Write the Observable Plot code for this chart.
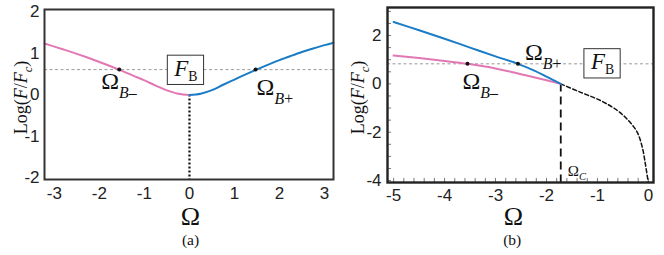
<!DOCTYPE html>
<html><head><meta charset="utf-8">
<script src="https://cdn.jsdelivr.net/npm/d3@7"></script>
<script src="https://cdn.jsdelivr.net/npm/@observablehq/plot@0.6"></script>
<style>
body{margin:0;background:#fff;}
#wrap{position:relative;width:664px;height:255px;overflow:hidden;}
#pa{position:absolute;left:0;top:0;width:336px;height:255px;}
#pb{position:absolute;left:336px;top:0;width:328px;height:255px;}
</style></head><body><div id="wrap"><div id="pa"></div><div id="pb"></div></div>
<script>
// ---------- Panel (a) data ----------
const omegaLowerA = [-3.22,-3.0,-2.75,-2.5,-2.25,-2.0,-1.75,-1.5,-1.25,-1.0,-0.75,-0.5,-0.25,0];
const logLowerA   = [1.24,1.165,1.08,0.99,0.895,0.795,0.69,0.58,0.465,0.35,0.225,0.11,0.03,0];
const omegaUpperA = [0,0.25,0.5,0.75,1.0,1.25,1.5,1.75,2.0,2.25,2.5,2.75,3.0,3.2];
const logUpperA   = [0,0.03,0.115,0.245,0.37,0.495,0.615,0.73,0.84,0.94,1.035,1.12,1.2,1.26];
const fbA = 0.61;
const crossOmegaA = [-1.56, 1.47];
const centerOmegaA = 0;
const xDomainA = [-3.22, 3.2];
const yDomainA = [-2.04, 2.06];
const xTicksA = [-3,-2,-1,0,1,2,3];
const yTicksA = [-2,-1,0,1,2];

// ---------- Panel (b) data ----------
const omegaUpperB = [-5,-4.5,-4,-3.5,-3,-2.56,-2.25,-2,-1.72];
const logUpperB   = [2.56,2.22,1.87,1.50,1.14,0.83,0.56,0.30,0];
const omegaLowerB = [-5,-4.5,-4,-3.55,-3,-2.5,-2,-1.72];
const logLowerB   = [1.17,1.07,0.95,0.83,0.64,0.40,0.15,0];
const omegaStableB = [-1.72,-1.33,-0.94,-0.61,-0.39,-0.22,-0.12,-0.06,-0.014,-0.005];
const logStableB   = [0,-0.35,-0.69,-1.10,-1.52,-2.0,-2.62,-3.31,-3.93,-4.08];
const fbB = 0.83;
const crossUpperB = -2.56;
const crossLowerB = -3.55;
const omegaC = -1.72;
const fbLabelOmegaB = -0.9;
const xDomainB = [-5.12, 0.1];
const yDomainB = [-4.08, 3.16];
const xTicksB = [-5,-4,-3,-2,-1,0];
const yTicksB = [-4,-2,0,2];
const xMinorB = d3.ticks(-5, 0, 25);
const yMinorB = d3.ticks(-4, 3, 14);

// ---------- styles ----------
const serif = "'Liberation Serif','Times New Roman',serif";
const sans = "'Liberation Sans',Arial,sans-serif";
const pink = "#e377b4", blue = "#1a7cc6";
const rows = (xs, ys) => xs.map((x, i) => ({x, y: ys[i]}));
const fmt = d => `${d}`;

// ---------- Panel (a) ----------
const crossA = crossOmegaA.map(x => ({x, y: fbA}));
const chartA = Plot.plot({
  width: 336, height: 255, marginLeft: 44, marginRight: 3, marginTop: 9, marginBottom: 76,
  style: {fontFamily: sans, fontSize: "17px", color: "#222", background: "white", overflow: "visible"},
  x: {domain: xDomainA, ticks: xTicksA, tickSize: 0, tickPadding: 7, tickFormat: fmt, label: null},
  y: {domain: yDomainA, ticks: yTicksA, tickSize: 0, tickPadding: 5, tickFormat: fmt, label: null},
  marks: [
    Plot.ruleY([fbA], {stroke: "#9a9a9a", strokeWidth: 1, strokeDasharray: "3,2.5"}),
    Plot.ruleX([centerOmegaA], {y1: 0, y2: yDomainA[0], stroke: "#111", strokeWidth: 2.2, strokeDasharray: "2,2"}),
    Plot.line(rows(omegaLowerA, logLowerA), {x: "x", y: "y", stroke: pink, strokeWidth: 2, curve: "catmull-rom"}),
    Plot.line(rows(omegaUpperA, logUpperA), {x: "x", y: "y", stroke: blue, strokeWidth: 2, curve: "catmull-rom"}),
    Plot.dot(crossA, {x: "x", y: "y", r: 2, fill: "#111"}),
    Plot.text([crossA[0]], {x: "x", y: "y", text: () => "Ω_{*B*–}", textAnchor: "start", dx: -18, dy: 11.5, fontFamily: serif, fontSize: 24, fill: "#111"}),
    Plot.text([crossA[1]], {x: "x", y: "y", text: () => "Ω_{*B*+}", textAnchor: "start", dx: 1, dy: 17.5, fontFamily: serif, fontSize: 24, fill: "#111"}),
    Plot.text([{x: centerOmegaA, y: fbA}], {x: "x", y: "y", text: () => "*F*_{B}", dx: -3.5, dy: -1.3, fontFamily: serif, fontSize: 23, fill: "#111"}),
    Plot.text(["Ω"], {frameAnchor: "bottom", lineAnchor: "bottom", dx: 1.5, dy: 45.5, fontFamily: serif, fontSize: 26, fill: "#111"}),
    Plot.text(["(a)"], {frameAnchor: "bottom", lineAnchor: "bottom", dx: 1.5, dy: 65, fontFamily: serif, fontSize: 15.5, fill: "#111"}),
    Plot.text(["Log(*F*/*F*_{*c*})"], {frameAnchor: "left", textAnchor: "middle", lineAnchor: "middle", rotate: -90, dx: -23, dy: 3, fontFamily: serif, fontSize: 18, fill: "#111"}),
    Plot.frame({stroke: "#333", strokeWidth: 2})
  ]
});

// ---------- Panel (b) ----------
const frameHB = 255 - 7 - 73, frameWB = 328 - 51 - 11;
const chartB = Plot.plot({
  width: 328, height: 255, marginLeft: 51, marginRight: 11, marginTop: 7, marginBottom: 73,
  style: {fontFamily: sans, fontSize: "17px", color: "#222", background: "transparent", overflow: "visible"},
  x: {domain: xDomainB, ticks: xTicksB, tickSize: 0, tickPadding: 6, tickFormat: fmt, label: null},
  y: {domain: yDomainB, ticks: yTicksB, tickSize: 0, tickPadding: 6, tickFormat: fmt, label: null},
  marks: [
    Plot.tickX(xMinorB, {insetTop: frameHB - 4, stroke: "#555", strokeWidth: 0.8}),
    Plot.tickY(yMinorB, {insetRight: frameWB - 4, stroke: "#555", strokeWidth: 0.8}),
    Plot.ruleY([fbB], {stroke: "#9a9a9a", strokeWidth: 1, strokeDasharray: "3,2.5"}),
    Plot.ruleX([omegaC], {y1: 0, y2: yDomainB[0], stroke: "#111", strokeWidth: 1.8, strokeDasharray: "8,5"}),
    Plot.line(rows(omegaStableB, logStableB), {x: "x", y: "y", stroke: "#111", strokeWidth: 1.5, strokeDasharray: "4,2.5", curve: "catmull-rom"}),
    Plot.line(rows(omegaLowerB, logLowerB), {x: "x", y: "y", stroke: pink, strokeWidth: 2, curve: "catmull-rom"}),
    Plot.line(rows(omegaUpperB, logUpperB), {x: "x", y: "y", stroke: blue, strokeWidth: 2, curve: "catmull-rom"}),
    Plot.dot([{x: crossLowerB, y: fbB}, {x: crossUpperB, y: fbB}], {x: "x", y: "y", r: 2, fill: "#111"}),
    Plot.text([{x: crossUpperB, y: fbB}], {x: "x", y: "y", text: () => "Ω_{*B*+}", textAnchor: "start", dx: 7, dy: -12, fontFamily: serif, fontSize: 24, fill: "#111"}),
    Plot.text([{x: crossLowerB, y: fbB}], {x: "x", y: "y", text: () => "Ω_{*B*–}", textAnchor: "start", dx: -5, dy: 17, fontFamily: serif, fontSize: 24, fill: "#111"}),
    Plot.text([{x: fbLabelOmegaB, y: fbB}], {x: "x", y: "y", text: () => "*F*_{B}", dy: -2, fontFamily: serif, fontSize: 23, fill: "#111"}),
    Plot.text([{x: omegaC, y: yDomainB[0]}], {x: "x", y: "y", text: () => "Ω_{*C*}", textAnchor: "start", dx: 7, dy: -11, fontFamily: serif, fontSize: 15, fill: "#111"}),
    Plot.text(["Ω"], {frameAnchor: "bottom", lineAnchor: "bottom", dx: -7, dy: 42, fontFamily: serif, fontSize: 26, fill: "#111"}),
    Plot.text(["(b)"], {frameAnchor: "bottom", lineAnchor: "bottom", dx: -8.3, dy: 62, fontFamily: serif, fontSize: 15.5, fill: "#111"}),
    Plot.text(["Log(*F*/*F*_{*c*})"], {frameAnchor: "left", textAnchor: "middle", lineAnchor: "middle", rotate: -90, dx: -29, dy: 2.5, fontFamily: serif, fontSize: 18, fill: "#111"}),
    Plot.frame({stroke: "#222", strokeWidth: 2.4})
  ]
});

document.getElementById("pa").appendChild(chartA);
document.getElementById("pb").appendChild(chartB);

// ---------- rich text (italic / subscript) ----------
const subStyle = {
  "Ω_{*B*–}": [0.66, 0.38], "Ω_{*B*+}": [0.66, 0.38],
  "*F*_{B}": [0.6, 0.23], "Log(*F*/*F*_{*c*})": [0.7, 0.25], "Ω_{*C*}": [0.7, 0.25]
};
const boxed = new Set(["*F*_{B}"]);
function parse(s) {
  const segs = []; let italic = false, sub = false, cur = "";
  const push = () => { if (cur) segs.push({text: cur, italic, sub}); cur = ""; };
  for (let i = 0; i < s.length; i++) {
    const c = s[i];
    if (c === "*") { push(); italic = !italic; }
    else if (c === "_" && s[i + 1] === "{") { push(); sub = true; i++; }
    else if (c === "}" && sub) { push(); sub = false; }
    else cur += c;
  }
  push();
  return segs;
}
function richify(svg) {
  d3.select(svg).selectAll("text").each(function() {
    const t = this.textContent;
    if (!(t in subStyle)) return;
    const [scale, shift] = subStyle[t];
    const fs = parseFloat(getComputedStyle(this).fontSize);
    this.textContent = "";
    let cur = 0;
    for (const s of parse(t)) {
      const ts = document.createElementNS("http://www.w3.org/2000/svg", "tspan");
      ts.textContent = s.text;
      ts.setAttribute("font-style", s.italic ? "italic" : "normal");
      const target = s.sub ? fs * shift : 0;
      if (target !== cur) { ts.setAttribute("dy", target - cur); cur = target; }
      if (s.sub) ts.setAttribute("font-size", fs * scale);
      this.appendChild(ts);
    }
    if (boxed.has(t)) {
      const bb = this.getBBox();
      const r = document.createElementNS("http://www.w3.org/2000/svg", "rect");
      r.setAttribute("x", bb.x - 6); r.setAttribute("y", bb.y - 0.5);
      r.setAttribute("width", bb.width + 12); r.setAttribute("height", bb.height + 1);
      r.setAttribute("fill", "white"); r.setAttribute("stroke", "#333"); r.setAttribute("stroke-width", 1);
      if (this.getAttribute("transform")) r.setAttribute("transform", this.getAttribute("transform"));
      this.parentNode.insertBefore(r, this);
    }
  });
}
richify(chartA);
richify(chartB);
</script></body></html>
